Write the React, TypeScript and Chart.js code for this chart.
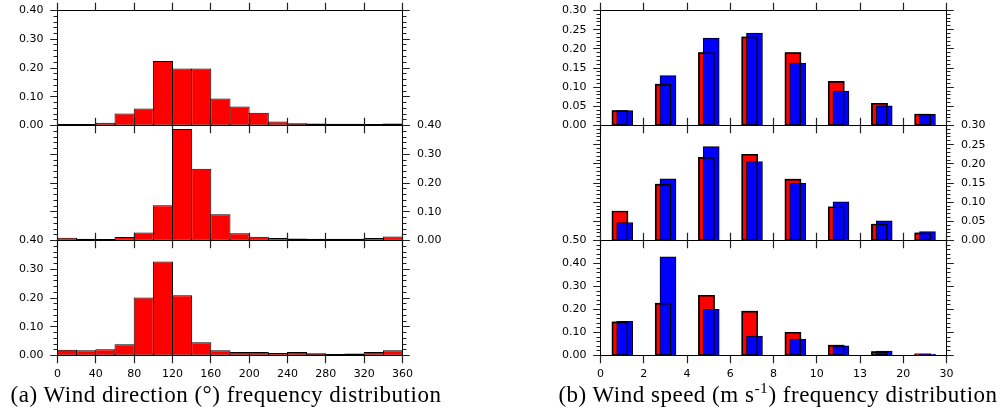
import React, { useEffect, useRef } from "react";
import { Chart, registerables } from "chart.js";

Chart.register(...registerables);

const W = 1005;
const H = 419;

// ---- (a) Wind direction frequency distribution (20-degree bins) ----
const dirBinCenters = [10, 30, 50, 70, 90, 110, 130, 150, 170, 190, 210, 230, 250, 270, 290, 310, 330, 350];
const dirTickValues = [0, 40, 80, 120, 160, 200, 240, 280, 320, 360];
const dirTickLabels = ["0", "40", "80", "120", "160", "200", "240", "280", "320", "360"];
const dirTopValues = [0.005, 0.005, 0.01, 0.042, 0.059, 0.224, 0.198, 0.198, 0.094, 0.066, 0.044, 0.014, 0.008, 0.007, 0.006, 0.006, 0.005, 0.007];
const dirMiddleValues = [0.01, 0.006, 0.005, 0.012, 0.028, 0.123, 0.388, 0.25, 0.091, 0.025, 0.013, 0.009, 0.007, 0.006, 0.006, 0.006, 0.009, 0.014];
const dirBottomValues = [0.02, 0.018, 0.022, 0.039, 0.202, 0.327, 0.21, 0.046, 0.018, 0.012, 0.012, 0.009, 0.012, 0.008, 0.005, 0.007, 0.012, 0.018];
const dirYTicks = [0, 0.1, 0.2, 0.3, 0.4];

// ---- (b) Wind speed frequency distribution ----
const speedBins = ["0-2", "2-4", "4-6", "6-8", "8-10", "10-13", "13-20", "20-30"];
const speedTickLabels = ["0", "2", "4", "6", "8", "10", "13", "20", "30"];
const speedTopRed = [0.039, 0.108, 0.19, 0.231, 0.19, 0.115, 0.058, 0.03];
const speedTopBlue = [0.039, 0.13, 0.228, 0.241, 0.163, 0.09, 0.051, 0.029];
const speedMiddleRed = [0.077, 0.147, 0.217, 0.225, 0.16, 0.088, 0.043, 0.02];
const speedMiddleBlue = [0.047, 0.161, 0.245, 0.206, 0.149, 0.101, 0.051, 0.023];
const speedBottomRed = [0.146, 0.228, 0.262, 0.193, 0.101, 0.045, 0.017, 0.007];
const speedBottomBlue = [0.149, 0.429, 0.201, 0.084, 0.071, 0.042, 0.019, 0.006];
const speedYTicksUpper = [0, 0.05, 0.1, 0.15, 0.2, 0.25, 0.3];
const speedYTicksLower = [0, 0.1, 0.2, 0.3, 0.4, 0.5];

const RED = "#ff0000";
const BLUE = "#0000ff";
const RED_POS = 0.45; // fraction of a speed bin where the red bar is centred
const BLUE_POS = 0.56;
const TICK_FONT = '11px "DejaVu Sans"';

type PanelCfg = {
  key: string;
  left: number;
  right: number;
  top: number;
  bottom: number;
  kind: "dir" | "speed";
  yMax: number;
  yTicks: number[];
  yMinor: number;
  labelSide: "left" | "right";
  showX: boolean;
  values?: number[];
  red?: number[];
  blue?: number[];
};

const COL_A = { left: 57.5, right: 402.5 };
const COL_B = { left: 600.5, right: 946.5 };
const ROWS = [
  { top: 10.5, bottom: 125.5 },
  { top: 125.5, bottom: 240.5 },
  { top: 240.5, bottom: 355.5 },
];

const panels: PanelCfg[] = [
  { key: "a1", ...COL_A, ...ROWS[0], kind: "dir", yMax: 0.4, yTicks: dirYTicks, yMinor: 0.02, labelSide: "left", showX: false, values: dirTopValues },
  { key: "a2", ...COL_A, ...ROWS[1], kind: "dir", yMax: 0.4, yTicks: dirYTicks, yMinor: 0.02, labelSide: "right", showX: false, values: dirMiddleValues },
  { key: "a3", ...COL_A, ...ROWS[2], kind: "dir", yMax: 0.4, yTicks: dirYTicks, yMinor: 0.02, labelSide: "left", showX: true, values: dirBottomValues },
  { key: "b1", ...COL_B, ...ROWS[0], kind: "speed", yMax: 0.3, yTicks: speedYTicksUpper, yMinor: 0.01, labelSide: "left", showX: false, red: speedTopRed, blue: speedTopBlue },
  { key: "b2", ...COL_B, ...ROWS[1], kind: "speed", yMax: 0.3, yTicks: speedYTicksUpper, yMinor: 0.01, labelSide: "right", showX: false, red: speedMiddleRed, blue: speedMiddleBlue },
  { key: "b3", ...COL_B, ...ROWS[2], kind: "speed", yMax: 0.5, yTicks: speedYTicksLower, yMinor: 0.02, labelSide: "left", showX: true, red: speedBottomRed, blue: speedBottomBlue },
];

const frameTicksPlugin = {
  id: "frameTicks",
  afterDatasetsDraw(chart: any, _args: any, opts: any) {
    const { ctx, chartArea: a } = chart;
    const xs = chart.scales.x;
    const ys = chart.scales.y;
    const snap = (v: number) => Math.round(v - 0.5) + 0.5;
    ctx.save();
    // frame
    ctx.strokeStyle = "#000";
    ctx.lineWidth = 1;
    ctx.strokeRect(a.left, a.top, a.right - a.left, a.bottom - a.top);

    // ticks
    ctx.strokeStyle = "#222";
    ctx.lineWidth = 1.2;
    ctx.beginPath();
    const xVals: number[] = opts.xTickValues;
    xVals.forEach((v) => {
      const px = snap(xs.getPixelForValue(v));
      ctx.moveTo(px, a.top);
      ctx.lineTo(px, a.top - 7.7);
      ctx.moveTo(px, a.bottom);
      ctx.lineTo(px, a.bottom + 7.7);
    });
    const yMax: number = opts.yMax;
    const minor: number = opts.yMinor;
    const nMinor = Math.round(yMax / minor);
    const majors: number[] = opts.yTicks;
    for (let k = 0; k <= nMinor; k++) {
      const v = k * minor;
      const isMajor = majors.some((m) => Math.abs(m - v) < 1e-6);
      const len = isMajor ? 7.3 : 4;
      const py = snap(ys.getPixelForValue(v));
      ctx.moveTo(a.left, py);
      ctx.lineTo(a.left - len, py);
      ctx.moveTo(a.right, py);
      ctx.lineTo(a.right + len, py);
    }
    ctx.stroke();

    // labels
    ctx.fillStyle = "#000";
    ctx.font = TICK_FONT;
    ctx.textBaseline = "middle";
    if (opts.labelSide === "left") {
      ctx.textAlign = "right";
      majors.forEach((m) => ctx.fillText(m.toFixed(2), a.left - 14, ys.getPixelForValue(m)));
    } else {
      ctx.textAlign = "left";
      majors.forEach((m) => ctx.fillText(m.toFixed(2), a.right + 14.5, ys.getPixelForValue(m)));
    }
    if (opts.showX) {
      ctx.textAlign = "center";
      const labels: string[] = opts.xTickLabels;
      xVals.forEach((v, i) => ctx.fillText(labels[i], xs.getPixelForValue(v), a.bottom + 19));
    }
    ctx.restore();
  },
};

function buildConfig(cfg: PanelCfg): any {
  let datasets: any[];
  let xMax: number;
  let xTickValues: number[];
  let xTickLabels: string[];
  if (cfg.kind === "dir") {
    xMax = 360;
    xTickValues = dirTickValues;
    xTickLabels = dirTickLabels;
    datasets = [
      {
        data: dirBinCenters.map((c, i) => ({ x: c, y: (cfg.values as number[])[i] })),
        backgroundColor: RED,
        borderColor: "#000",
        borderWidth: 1,
        borderSkipped: false,
        grouped: false,
        categoryPercentage: 1,
        barPercentage: 1.05,
      },
    ];
  } else {
    xMax = speedBins.length;
    xTickValues = speedTickLabels.map((_, i) => i);
    xTickLabels = speedTickLabels;
    const red = cfg.red as number[];
    const blue = cfg.blue as number[];
    const common = { borderColor: "#000", borderWidth: 1, borderSkipped: false, grouped: false, barThickness: 16 };
    datasets = [
      { ...common, label: "red", order: 3, backgroundColor: RED, data: speedBins.map((_, i) => ({ x: i + RED_POS, y: red[i] })) },
      { ...common, label: "blue", order: 2, backgroundColor: BLUE, data: speedBins.map((_, i) => ({ x: i + BLUE_POS, y: blue[i] })) },
      { ...common, label: "red outline", order: 1, backgroundColor: "rgba(0,0,0,0)", data: speedBins.map((_, i) => ({ x: i + RED_POS, y: red[i] })) },
    ];
  }
  return {
    type: "bar",
    data: { datasets },
    options: {
      responsive: false,
      animation: false,
      devicePixelRatio: 1,
      events: [],
      layout: {
        padding: { left: cfg.left, right: W - cfg.right, top: cfg.top, bottom: H - cfg.bottom },
      },
      plugins: {
        legend: { display: false },
        tooltip: { enabled: false },
        frameTicks: {
          xTickValues,
          xTickLabels,
          yTicks: cfg.yTicks,
          yMax: cfg.yMax,
          yMinor: cfg.yMinor,
          labelSide: cfg.labelSide,
          showX: cfg.showX,
        },
      },
      scales: {
        x: { type: "linear", display: false, min: 0, max: xMax, offset: false, ticks: { stepSize: xMax === 360 ? 40 : 1 } },
        y: { type: "linear", display: false, min: 0, max: cfg.yMax },
      },
    },
    plugins: [frameTicksPlugin],
  };
}

function Panel({ cfg }: { cfg: PanelCfg }) {
  const ref = useRef<HTMLCanvasElement>(null);
  useEffect(() => {
    if (!ref.current) return;
    const chart = new Chart(ref.current, buildConfig(cfg));
    return () => chart.destroy();
  }, [cfg]);
  return (
    <canvas
      ref={ref}
      width={W}
      height={H}
      style={{ position: "absolute", left: 0, top: 0, width: W, height: H }}
    />
  );
}

const captionStyle: React.CSSProperties = {
  position: "absolute",
  top: 383,
  width: 600,
  textAlign: "center",
  whiteSpace: "nowrap",
  fontFamily: '"Liberation Serif", serif',
  fontSize: 23,
  lineHeight: "23px",
  letterSpacing: "0.5px",
  color: "#000",
};

export default function App() {
  return (
    <div style={{ position: "absolute", left: 0, top: 0, width: W, height: H, background: "#fff", overflow: "hidden" }}>
      {panels.map((p) => (
        <Panel key={p.key} cfg={p} />
      ))}
      <div style={{ ...captionStyle, left: 226 - 300 }}>(a) Wind direction (°) frequency distribution</div>
      <div style={{ ...captionStyle, left: 778 - 300 }}>
        (b) Wind speed (m s
        <span style={{ fontSize: "0.68em", position: "relative", top: "-0.55em" }}>-1</span>) frequency distribution
      </div>
    </div>
  );
}
